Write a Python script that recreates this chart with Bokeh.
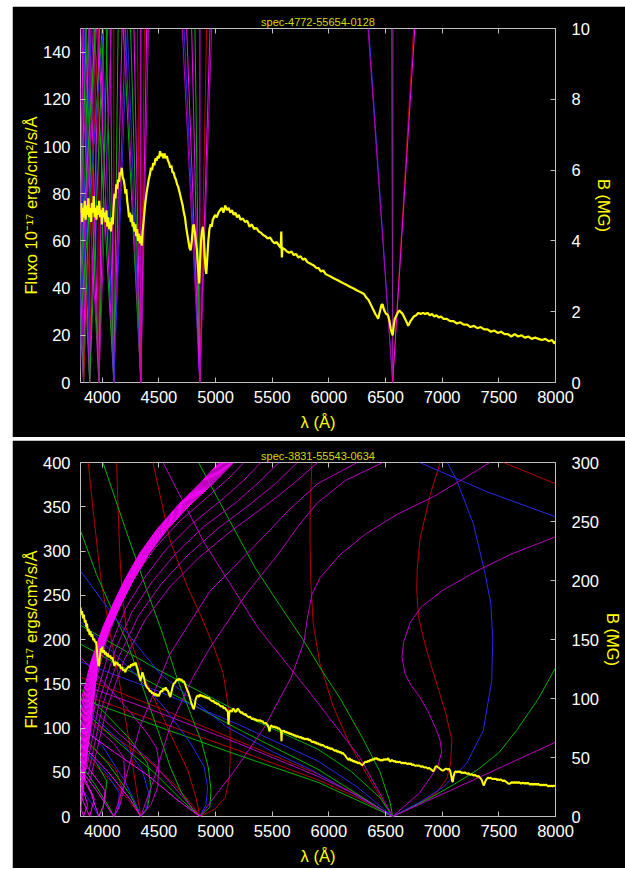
from bokeh.plotting import figure
from bokeh.models import Range1d, LinearAxis, FixedTicker
from bokeh.layouts import column
from bokeh.embed import file_html
from bokeh.resources import INLINE

FONT = "Liberation Sans"
COL = {"red": "#b80000", "green": "#00b000", "blue": "#2828e8",
       "purple": "#b800c0", "magenta": "#ff00ff"}

# ---------------- axis ticks / ranges ----------------
wave_range = [3808, 8000]
wave_ticks = [4000, 4500, 5000, 5500, 6000, 6500, 7000, 7500, 8000]
top_flux_ticks = [0, 20, 40, 60, 80, 100, 120, 140]
top_b_ticks = [0, 2, 4, 6, 8, 10]
bot_flux_ticks = [0, 50, 100, 150, 200, 250, 300, 350, 400]
bot_b_ticks = [0, 50, 100, 150, 200, 250, 300]
top_title = "spec-4772-55654-0128"
bot_title = "spec-3831-55543-0634"

# ---------------- top spectrum (spec-4772-55654-0128) ----------------
top_wave = [3809, 3815, 3822, 3830, 3838, 3846, 3853, 3861, 3869, 3877, 3885, 3893, 3901, 3909, 3917, 3925,
            3933, 3941, 3949, 3957, 3965, 3973, 3981, 3989, 3997, 4005, 4013, 4021, 4029, 4037, 4045, 4053,
            4061, 4069, 4077, 4085, 4093, 4100, 4108, 4116, 4124, 4132, 4140, 4148, 4156, 4164, 4172, 4180,
            4188, 4196, 4204, 4212, 4220, 4228, 4236, 4244, 4252, 4260, 4268, 4276, 4284, 4292, 4300, 4308,
            4316, 4324, 4332, 4340, 4348, 4356, 4364, 4372, 4380, 4390, 4400, 4410, 4420, 4430, 4440, 4450,
            4460, 4470, 4480, 4490, 4500, 4510, 4520, 4530, 4540, 4550, 4560, 4570, 4580, 4590, 4600, 4610,
            4620, 4630, 4640, 4650, 4660, 4670, 4680, 4690, 4700, 4710, 4720, 4730, 4740, 4750, 4760, 4770,
            4780, 4790, 4800, 4808, 4816, 4826, 4836, 4846, 4856, 4864, 4872, 4880, 4888, 4896, 4904, 4912,
            4918, 4926, 4936, 4946, 4956, 4966, 4976, 4986, 4996, 5010, 5025, 5040, 5055, 5070, 5085, 5100,
            5115, 5130, 5145, 5160, 5175, 5190, 5205, 5220, 5240, 5260, 5280, 5300, 5320, 5340, 5360, 5380,
            5400, 5420, 5440, 5460, 5480, 5500, 5520, 5540, 5560, 5575, 5580, 5585, 5590, 5610, 5630, 5650,
            5670, 5690, 5710, 5730, 5750, 5770, 5790, 5810, 5830, 5850, 5870, 5890, 5910, 5930, 5950, 5970,
            5990, 6010, 6030, 6050, 6070, 6090, 6110, 6130, 6150, 6170, 6190, 6210, 6230, 6250, 6270, 6290,
            6310, 6330, 6350, 6370, 6390, 6410, 6425, 6435, 6445, 6455, 6465, 6475, 6485, 6495, 6505, 6515,
            6525, 6535, 6545, 6555, 6563, 6572, 6582, 6592, 6602, 6612, 6622, 6632, 6642, 6652, 6662, 6672,
            6682, 6692, 6700, 6710, 6720, 6735, 6750, 6770, 6790, 6810, 6830, 6850, 6870, 6890, 6910, 6930,
            6950, 6970, 6990, 7010, 7040, 7070, 7100, 7130, 7160, 7190, 7220, 7250, 7280, 7310, 7340, 7370,
            7400, 7430, 7460, 7490, 7520, 7550, 7580, 7610, 7640, 7670, 7700, 7730, 7760, 7790, 7820, 7850,
            7880, 7910, 7940, 7970, 7990, 8000]
top_flux = [72, 76, 68, 74, 70, 77, 69, 75, 71, 78, 70, 74, 68, 76, 72, 79,
            70, 74, 69, 75, 71, 77, 70, 73, 67, 74, 70, 72, 68, 73, 66, 70,
            65, 68, 64, 70, 67, 74, 80, 78, 84, 82, 86, 85, 89, 88, 91, 87,
            86, 84, 80, 82, 77, 74, 70, 72, 68, 71, 66, 68, 64, 67, 62, 65,
            60, 63, 59, 62, 58, 64, 68, 72, 76, 80, 83, 86, 88, 91, 90, 93,
            92, 95, 94, 96, 95, 98, 96, 97, 95, 97, 95, 96, 94, 93, 91, 92,
            89, 89, 87, 86, 84, 83, 81, 79, 77, 75, 72, 70, 66, 63, 60, 57,
            56, 60, 66, 67, 64, 60, 56, 48, 42, 52, 60, 64, 66, 62, 54, 48,
            46, 52, 60, 65, 67, 66, 69, 70, 71, 70, 72, 73, 74, 72, 75, 73,
            74, 72, 73, 71, 72, 70, 71, 69, 69.5, 68, 68.5, 66, 67, 65, 65.5, 64,
            63.5, 62.5, 62, 61, 61.5, 60, 59, 59.5, 58, 57, 64, 53, 57, 56.5, 55.5, 55,
            55.5, 54, 54.5, 53, 53.5, 52, 52.5, 51, 50.5, 50, 49.5, 48.5, 48.5, 47, 47.5, 46,
            45.5, 45, 44.5, 44, 43.5, 43, 42.5, 42, 41.5, 41, 40.5, 40, 39.5, 39, 38.5, 38,
            37.5, 36, 35, 33, 31, 29, 28, 27, 29, 31, 33, 33, 31, 30, 29, 29,
            28, 26, 23, 21, 20, 24, 27, 28, 29, 30, 30.5, 30, 29.5, 29, 28, 27,
            26, 25, 24, 25, 26, 27, 28, 28.5, 29.5, 29, 29.5, 29, 29.5, 28.5, 29, 28,
            28.5, 27.5, 28, 27, 27, 26, 26, 25, 25.5, 24.5, 24.5, 23.5, 24, 23, 23.5, 22.5,
            22.5, 21.5, 22, 21, 21.5, 20.5, 20.5, 19.5, 20.5, 19.5, 20, 19, 19.5, 18.5, 19, 18.5,
            18, 18.5, 17.5, 18, 16.5, 17.5]

# ---------------- top Zeeman lines: (B=0 wavelength, wavelength at B=10 MG, colour) ----------------
top_line_b_end = 10
top_line_start = [6563, 6563, 6563, 6563, 6563, 6563,
                  4861, 4861, 4861, 4861, 4861, 4861, 4861, 4861, 4861,
                  4340, 4340, 4340, 4340, 4340, 4340, 4340, 4340, 4340, 4340,
                  4102, 4102, 4102, 4102, 4102, 4102, 4102, 4102, 4102, 4102,
                  3970, 3970, 3970, 3970, 3970, 3970, 3970, 3970,
                  3889, 3889, 3889, 3889, 3889, 3889, 3889,
                  3835, 3835, 3835, 3835, 3835, 3835, 3835,
                  3798, 3798, 3798, 3798,
                  3771, 3771, 3771, 3771, 3750, 3750, 3750]
top_line_end = [6352, 6346, 6556, 6566, 6748, 6758,
                4706, 4722, 4745, 4789, 4818, 4862, 4921, 4951, 4966,
                4185, 4200, 4222, 4250, 4280, 4310, 4340, 4372, 4392, 4408,
                3930, 3965, 4000, 4035, 4070, 4102, 4140, 4175, 4205, 4222,
                3810, 3850, 3890, 3930, 3970, 4010, 4045, 4080,
                3740, 3790, 3840, 3889, 3935, 3975, 4010,
                3660, 3720, 3780, 3835, 3880, 3930, 3965,
                3830, 3880, 3920, 3850,
                3860, 3905, 3950, 4000, 3880, 3940, 4010]
top_line_color = ["blue", "purple", "green", "purple", "red", "magenta",
                  "purple", "blue", "magenta", "magenta", "green", "magenta", "red", "magenta", "purple",
                  "green", "purple", "blue", "green", "magenta", "red", "magenta", "red", "magenta", "purple",
                  "green", "magenta", "blue", "green", "magenta", "red", "green", "magenta", "purple", "blue",
                  "purple", "green", "magenta", "blue", "red", "magenta", "green", "purple",
                  "green", "magenta", "blue", "purple", "red", "magenta", "green",
                  "magenta", "green", "purple", "blue", "magenta", "green", "red",
                  "magenta", "green", "purple", "blue",
                  "green", "blue", "purple", "green", "purple", "green", "blue"]

# ---------------- bottom spectrum (spec-3831-55543-0634) ----------------
bot_wave = [3809, 3815, 3822, 3830, 3838, 3846, 3853, 3860, 3866, 3872, 3880, 3888, 3896, 3904, 3912, 3920,
            3928, 3936, 3944, 3952, 3958, 3964, 3970, 3976, 3982, 3988, 3994, 4000, 4008, 4016, 4024, 4032,
            4040, 4050, 4060, 4070, 4080, 4090, 4100, 4108, 4116, 4124, 4134, 4144, 4154, 4164, 4174, 4184,
            4194, 4204, 4214, 4224, 4234, 4244, 4254, 4264, 4274, 4284, 4294, 4304, 4314, 4322, 4330, 4338,
            4346, 4354, 4362, 4370, 4380, 4390, 4400, 4410, 4420, 4430, 4440, 4450, 4460, 4470, 4480, 4490,
            4500, 4510, 4520, 4530, 4540, 4550, 4560, 4570, 4580, 4590, 4600, 4610, 4620, 4630, 4640, 4650,
            4660, 4670, 4680, 4690, 4700, 4710, 4720, 4730, 4740, 4750, 4760, 4770, 4780, 4790, 4800, 4808,
            4816, 4824, 4832, 4842, 4852, 4862, 4872, 4882, 4892, 4902, 4912, 4922, 4932, 4942, 4952, 4962,
            4972, 4982, 4992, 5002, 5012, 5022, 5032, 5042, 5052, 5062, 5072, 5082, 5092, 5100, 5108, 5114,
            5118, 5124, 5134, 5144, 5154, 5164, 5174, 5184, 5194, 5204, 5214, 5224, 5234, 5244, 5254, 5264,
            5274, 5284, 5294, 5304, 5314, 5324, 5334, 5344, 5354, 5364, 5374, 5384, 5394, 5404, 5414, 5424,
            5434, 5444, 5454, 5462, 5470, 5476, 5482, 5490, 5500, 5510, 5520, 5530, 5540, 5550, 5560, 5570,
            5578, 5582, 5586, 5594, 5604, 5614, 5624, 5634, 5644, 5654, 5664, 5674, 5684, 5694, 5704, 5714,
            5724, 5734, 5744, 5754, 5764, 5774, 5784, 5794, 5804, 5814, 5824, 5834, 5844, 5854, 5864, 5874,
            5884, 5894, 5904, 5914, 5924, 5934, 5944, 5954, 5964, 5974, 5984, 5994, 6004, 6014, 6024, 6034,
            6044, 6054, 6064, 6074, 6084, 6094, 6104, 6114, 6124, 6134, 6144, 6154, 6164, 6174, 6184, 6194,
            6204, 6214, 6224, 6234, 6244, 6254, 6264, 6274, 6284, 6294, 6304, 6314, 6324, 6334, 6344, 6354,
            6364, 6374, 6384, 6394, 6404, 6414, 6424, 6434, 6444, 6454, 6464, 6474, 6484, 6494, 6504, 6514,
            6524, 6534, 6544, 6554, 6564, 6574, 6584, 6594, 6604, 6614, 6624, 6634, 6644, 6654, 6664, 6674,
            6684, 6694, 6704, 6714, 6724, 6734, 6744, 6754, 6764, 6774, 6784, 6794, 6804, 6814, 6824, 6834,
            6844, 6854, 6864, 6874, 6884, 6894, 6904, 6914, 6922, 6930, 6940, 6950, 6960, 6970, 6980, 6990,
            7000, 7010, 7020, 7030, 7040, 7050, 7060, 7070, 7080, 7088, 7094, 7100, 7110, 7120, 7130, 7140,
            7150, 7160, 7170, 7180, 7190, 7200, 7210, 7220, 7230, 7240, 7250, 7260, 7270, 7280, 7290, 7300,
            7310, 7320, 7330, 7340, 7350, 7360, 7368, 7376, 7386, 7396, 7406, 7416, 7426, 7436, 7446, 7456,
            7466, 7476, 7486, 7496, 7506, 7516, 7526, 7536, 7546, 7556, 7566, 7576, 7586, 7596, 7606, 7616,
            7626, 7636, 7646, 7656, 7666, 7676, 7686, 7696, 7706, 7716, 7726, 7736, 7746, 7756, 7766, 7776,
            7786, 7796, 7806, 7816, 7826, 7836, 7846, 7856, 7866, 7876, 7886, 7896, 7906, 7916, 7926, 7936,
            7946, 7956, 7966, 7976, 7986, 7996]
bot_flux = [236, 228, 232, 224, 228, 219, 222, 214, 218, 209, 212, 205, 209, 203, 206, 199,
            201, 197, 198, 190, 180, 172, 170, 175, 184, 190, 186, 192, 185, 188, 183, 186,
            181, 184, 180, 182, 178, 180, 174, 170, 175, 172, 174, 170, 172, 167, 169, 165,
            166, 163, 167, 168, 170, 168, 172, 170, 173, 171, 174, 170, 166, 160, 157, 153,
            158, 163, 160, 156, 150, 147, 145, 144, 141, 142, 139, 140, 137, 139, 136, 138,
            136, 140, 142, 141, 145, 143, 146, 143, 142, 138, 135, 140, 146, 150, 151, 153,
            155, 154, 156, 154, 155, 152, 153, 150, 146, 143, 140, 136, 131, 127, 123, 121,
            126, 132, 135, 137, 135, 138, 136, 137, 135, 136, 134, 135, 133, 134, 132, 131,
            130, 131, 128, 129, 127, 128, 126, 125, 124, 125, 122, 123, 121, 120, 118, 104,
            112, 119, 120, 118, 122, 121, 118, 119, 122, 121, 119, 117, 118, 116, 115, 116,
            114, 113, 112, 113, 111, 110, 111, 109, 110, 108, 109, 108, 109, 107, 108, 106,
            105, 106, 104, 103, 99, 96, 100, 103, 102, 101, 102, 100, 101, 99, 100, 98,
            97, 85, 97, 96, 97, 95, 96, 94, 95, 93, 94, 92, 93, 91, 92, 90,
            91, 90, 89, 90, 88, 89, 87, 88, 87, 88, 86, 87, 85, 84, 85, 83,
            84, 82, 83, 81, 82, 80, 81, 80, 79, 78, 79, 77, 78, 76, 77, 76,
            75, 74, 75, 73, 74, 72, 73, 71, 72, 70, 69, 67, 65, 64, 66, 63,
            64, 62, 63, 61, 62, 60, 61, 60, 59, 58, 59, 61, 62, 61, 63, 62,
            64, 63, 65, 64, 66, 65, 66, 64, 65, 63, 64, 63, 65, 64, 65, 64,
            66, 63, 62, 64, 63, 62, 63, 61, 62, 61, 62, 61, 60, 61, 60, 61,
            60, 59, 60, 59, 60, 58, 59, 58, 57, 58, 57, 58, 57, 56, 57, 56,
            55, 56, 55, 54, 55, 54, 53, 52, 51, 53, 56, 57, 56, 55, 54, 53,
            52, 52, 53, 54, 54, 53, 54, 52, 46, 40, 39, 45, 50, 51, 50, 51,
            50, 51, 49, 50, 49, 50, 49, 48, 49, 48, 47, 48, 47, 46, 47, 46,
            45, 46, 44, 43, 41, 37, 35, 38, 41, 43, 44, 43, 44, 43, 42, 43,
            42, 43, 41, 42, 41, 42, 41, 40, 41, 40, 39, 38, 37, 37, 38, 39,
            38, 39, 38, 39, 38, 39, 38, 37, 38, 38, 37, 38, 37, 38, 37, 36,
            37, 36, 37, 36, 37, 36, 37, 36, 35, 36, 35, 36, 35, 36, 35, 34,
            35, 34, 35, 34, 35, 34]

# ---------------- bottom transition curves, (wavelength, B in MG) points ----------------
red_curves = [
    [(3876, 300), (3930, 250), (3990, 200), (4060, 160), (4150, 115), (4227, 70), (4290, 30), (4340, 0)],
    [(4127, 300), (4140, 260), (4156, 220), (4175, 190), (4210, 160), (4350, 122), (4521, 87), (4650, 60),
     (4756, 39), (4830, 15), (4861, 0)],
    [(4447, 300), (4598, 234), (4750, 195), (4862, 172), (4980, 145), (5068, 121), (5110, 95), (5127, 78),
     (5130, 50), (5120, 32), (5085, 16), (4990, 6), (4861, 0)],
    [(5850, 300), (5835, 260), (5833, 234), (5840, 200), (5862, 163), (5920, 130), (6039, 93), (6180, 62),
     (6333, 36), (6470, 14), (6563, 0)],
    [(6981, 300), (6892, 272), (6804, 235), (6780, 210), (6775, 193), (6790, 170), (6819, 157), (6880, 135),
     (6960, 110), (7030, 88), (7085, 65), (7075, 45), (7040, 32), (6951, 20), (6716, 7), (6563, 0)],
    [(7540, 300), (7770, 291), (8000, 282)],
    [(3809, 118), (4500, 92), (5200, 64), (5904, 36), (6250, 18), (6563, 0)],
    [(3809, 104), (4500, 80), (5200, 56), (5904, 31), (6250, 16), (6563, 0)],
    [(3809, 86), (4100, 68), (4400, 48), (4650, 26), (4800, 9), (4861, 0)],
    [(3809, 55), (4050, 33), (4250, 12), (4340, 0)],
    [(4102, 0), (4150, 8), (4170, 25), (4120, 40), (3950, 55), (3809, 68)],
]
green_curves = [
    [(4006, 300), (4200, 245), (4400, 190), (4521, 158), (4668, 115), (4800, 82), (4874, 64), (4935, 42),
     (4960, 22), (4950, 8), (4861, 0)],
    [(3809, 242), (3950, 205), (4100, 172), (4215, 149), (4374, 105), (4509, 68), (4600, 42), (4700, 20),
     (4800, 6), (4861, 0)],
    [(4850, 300), (5100, 255), (5348, 211), (5560, 180), (5771, 150), (5950, 122), (6100, 100), (6300, 66),
     (6450, 38), (6540, 12), (6563, 0)],
    [(6563, 0), (6900, 16), (7100, 27), (7304, 39), (7500, 54), (7657, 73), (7850, 100), (8000, 126)],
    [(3809, 162), (4500, 124), (5376, 80), (5904, 57), (6200, 38), (6450, 16), (6563, 0)],
    [(3809, 146), (4500, 110), (5200, 74), (5904, 40), (6300, 16), (6563, 0)],
    [(3809, 100), (4500, 76), (5200, 52), (5904, 29), (6563, 0)],
    [(3809, 92), (4150, 62), (4450, 38), (4700, 14), (4861, 0)],
    [(3809, 70), (4050, 45), (4250, 18), (4340, 0)],
    [(4340, 0), (4400, 8), (4430, 25), (4400, 45), (4250, 65), (4050, 85), (3809, 108)],
    [(3970, 0), (4020, 12), (4040, 30), (3950, 45), (3809, 60)],
    [(3809, 45), (3950, 25), (4060, 8), (4102, 0)],
]
blue_curves = [
    [(6563, 0), (6800, 12), (7010, 25), (7216, 45), (7363, 73), (7437, 115), (7446, 150), (7430, 180),
     (7378, 206), (7275, 248), (7128, 285), (7045, 300)],
    [(6800, 300), (7400, 275), (8000, 254)],
    [(3809, 208), (4100, 170), (4509, 121), (5098, 76), (5500, 55), (5833, 40), (6200, 20), (6563, 0)],
    [(3809, 131), (4500, 106), (5200, 78), (5904, 47), (6250, 25), (6563, 0)],
    [(4861, 0), (4915, 10), (4930, 24), (4900, 42), (4780, 62), (4550, 92), (4250, 125), (3809, 165)],
    [(3809, 80), (4000, 60), (4200, 30), (4300, 10), (4340, 0)],
    [(4340, 0), (4390, 6), (4410, 20), (4350, 40), (4200, 60), (3809, 95)],
    [(4102, 0), (4140, 6), (4150, 20), (4050, 35), (3809, 60)],
    [(3809, 25), (3900, 12), (3970, 0)],
]
purple_curves = [
    [(4861, 0), (5000, 18), (5168, 39), (5433, 76), (5668, 118), (5780, 148), (5810, 168), (5850, 188),
     (5920, 202), (6100, 222), (6333, 240), (6600, 256), (6922, 271), (7200, 287), (7420, 300)],
    [(4340, 0), (4450, 30), (4598, 76), (4800, 118), (4951, 143), (5274, 189), (5550, 222), (5745, 248),
     (5900, 266), (6150, 285), (6476, 300)],
    [(4102, 0), (4200, 30), (4333, 76), (4598, 138), (4951, 191), (5392, 234), (5650, 260), (5900, 282),
     (6250, 300)],
    [(4536, 300), (4900, 232), (5374, 160), (5832, 105), (6274, 50), (6563, 0)],
    [(6563, 0), (6800, 20), (6960, 42), (6996, 55), (6980, 65), (6951, 73), (6880, 88), (6804, 101),
     (6720, 112), (6672, 121), (6645, 135), (6660, 148), (6720, 165), (6820, 178), (7010, 192), (7304, 208),
     (7600, 222), (8000, 237)],
    [(6563, 0), (7300, 32), (8000, 63)],
    [(3809, 100), (4150, 70), (4450, 45), (4680, 20), (4861, 0)],
    [(4340, 0), (4430, 10), (4490, 25), (4500, 45), (4480, 58), (4400, 70), (4250, 88), (4050, 110), (3809, 135)],
    [(4102, 0), (4160, 10), (4200, 30), (4190, 50), (4100, 62), (3950, 75), (3809, 88)],
    [(3809, 112), (4500, 88), (5200, 62), (5904, 34), (6250, 18), (6563, 0)],
    [(3830, 50), (3930, 110), (4040, 150), (4160, 180), (4300, 205), (4470, 228), (4680, 250), (4920, 270),
     (5120, 287), (5250, 300)],
    [(3845, 45), (3955, 105), (4075, 145), (4210, 177), (4370, 202), (4560, 226), (4790, 248), (5050, 268),
     (5250, 285), (5400, 300)],
    [(3860, 40), (3980, 100), (4110, 140), (4260, 173), (4440, 199), (4650, 223), (4900, 246), (5180, 266),
     (5390, 284), (5560, 300)],
    [(3875, 35), (4005, 95), (4150, 136), (4320, 170), (4520, 197), (4750, 221), (5020, 244), (5310, 265),
     (5540, 283), (5720, 300)],
    [(3890, 30), (4035, 90), (4190, 132), (4380, 167), (4600, 195), (4860, 220), (5150, 243), (5450, 264),
     (5700, 283), (5900, 300)],
]
magenta_curves = [
    [(3808, 96), (3900, 131), (4000, 159), (4100, 181), (4200, 201), (4330, 223), (4480, 243), (4670, 264), (4870, 283), (5030, 300)],
    [(3808, 89), (3905, 131), (4005, 159), (4106, 181), (4206, 201), (4337, 223), (4487, 243), (4678, 264), (4879, 283), (5040, 300)],
    [(3808, 82), (3910, 131), (4010, 159), (4111, 181), (4212, 201), (4343, 223), (4494, 243), (4686, 264), (4888, 283), (5050, 300)],
    [(3808, 75), (3915, 131), (4015, 159), (4117, 181), (4218, 201), (4350, 223), (4501, 243), (4694, 264), (4897, 283), (5060, 300)],
    [(3808, 68), (3920, 131), (4020, 159), (4122, 181), (4224, 201), (4356, 223), (4508, 243), (4702, 264), (4906, 283), (5070, 300)],
    [(3808, 61), (3925, 131), (4025, 159), (4128, 181), (4230, 201), (4363, 223), (4515, 243), (4710, 264), (4915, 283), (5080, 300)],
    [(3808, 54), (3930, 131), (4030, 159), (4133, 181), (4236, 201), (4369, 223), (4522, 243), (4718, 264), (4924, 283), (5090, 300)],
    [(3808, 47), (3935, 131), (4035, 159), (4139, 181), (4242, 201), (4376, 223), (4529, 243), (4726, 264), (4933, 283), (5100, 300)],
    [(3808, 40), (3940, 131), (4040, 159), (4144, 181), (4248, 201), (4382, 223), (4536, 243), (4734, 264), (4942, 283), (5110, 300)],
    [(3808, 33), (3945, 131), (4045, 159), (4150, 181), (4254, 201), (4389, 223), (4543, 243), (4742, 264), (4951, 283), (5120, 300)],
    [(3808, 26), (3950, 131), (4050, 159), (4155, 181), (4260, 201), (4395, 223), (4550, 243), (4750, 264), (4960, 283), (5130, 300)],
    [(3808, 19), (3955, 131), (4055, 159), (4161, 181), (4266, 201), (4402, 223), (4557, 243), (4758, 264), (4969, 283), (5140, 300)],
    [(3808, 12), (3960, 131), (4060, 159), (4166, 181), (4272, 201), (4408, 223), (4564, 243), (4766, 264), (4978, 283), (5150, 300)],
    [(3808, 5), (3965, 131), (4065, 159), (4172, 181), (4278, 201), (4415, 223), (4571, 243), (4774, 264), (4987, 283), (5160, 300)],
    [(3889, 0), (3930, 15), (3809, 40)],
    [(3809, 18), (3889, 0)],
    [(3835, 0), (3870, 10), (3809, 30)],
    [(3809, 8), (3835, 0)],
    [(3970, 0), (4010, 8), (4025, 22), (3809, 50)],
    [(3809, 36), (3900, 20), (3970, 0)],
    [(3809, 62), (4050, 38), (4250, 14), (4340, 0)],
    [(3809, 40), (3950, 22), (4102, 0)],
    [(3809, 75), (4100, 55), (4400, 35), (4650, 15), (4861, 0)],
]


def make_panel(title, flux_max, b_max, flux_ticks, b_ticks, height, margin_top, border_bottom):
    p = figure(width=613, height=height, x_range=Range1d(*wave_range), y_range=Range1d(0, flux_max),
               output_backend="svg", toolbar_location=None,
               background_fill_color="black", border_fill_color="black",
               min_border_left=68, min_border_right=70, min_border_top=22, min_border_bottom=border_bottom)
    p.margin = (margin_top, 0, 0, 12)
    p.extra_y_ranges = {"B": Range1d(0, b_max)}
    p.grid.visible = False
    p.outline_line_color = "#c0c0c0"
    p.outline_line_width = 1

    p.title.text = title
    p.title.align = "center"
    p.title.text_font = FONT
    p.title.text_font_size = "11px"
    p.title.text_font_style = "normal"
    p.title.text_color = "#d8d800"
    p.title.standoff = 1

    def style(ax):
        ax.axis_line_color = None
        ax.major_tick_in = 5
        ax.major_tick_out = 0
        ax.minor_tick_in = 0
        ax.minor_tick_out = 0
        ax.major_tick_line_color = "#c0c0c0"
        ax.major_label_text_color = "white"
        ax.major_label_text_font = FONT
        ax.major_label_text_font_size = "16.5px"
        ax.axis_label_text_color = "#ffff00"
        ax.axis_label_text_font = FONT
        ax.axis_label_text_font_size = "16.5px"
        ax.axis_label_text_font_style = "normal"

    xa = p.xaxis[0]
    style(xa)
    xa.ticker = FixedTicker(ticks=wave_ticks)
    xa.axis_label = "λ (Å)"
    xa.major_label_standoff = 8
    xa.axis_label_standoff = 7

    ya = p.yaxis[0]
    style(ya)
    ya.ticker = FixedTicker(ticks=flux_ticks)
    ya.axis_label = "Fluxo 10⁻¹⁷ ergs/cm²/s/Å"
    ya.major_label_standoff = 10
    ya.axis_label_standoff = 0

    ra = LinearAxis(y_range_name="B", ticker=FixedTicker(ticks=b_ticks), axis_label="B (MG)")
    style(ra)
    ra.major_label_standoff = 16
    ra.axis_label_standoff = 2
    p.add_layout(ra, "right")

    # mirrored tick marks on the top edge, no labels
    ta = LinearAxis(ticker=FixedTicker(ticks=wave_ticks))
    style(ta)
    ta.major_label_text_color = None
    ta.major_label_text_font_size = "1px"
    ta.major_label_standoff = 0
    p.add_layout(ta, "above")
    return p


# ---------------- top panel ----------------
p1 = make_panel(top_title, 150, 10, top_flux_ticks, top_b_ticks, 431, 6, 55)
p1.segment(x0=top_line_start, y0=[0] * len(top_line_start), x1=top_line_end,
           y1=[top_line_b_end] * len(top_line_end),
           line_color=[COL[c] for c in top_line_color], line_width=1, y_range_name="B")
p1.line(top_wave, top_flux, line_color="#ffff00", line_width=2.2)

# ---------------- bottom panel ----------------
p2 = make_panel(bot_title, 400, 300, bot_flux_ticks, bot_b_ticks, 428, 3, 52)
for name, curves in [("red", red_curves), ("green", green_curves), ("blue", blue_curves),
                     ("purple", purple_curves), ("magenta", magenta_curves)]:
    p2.multi_line(xs=[[pt[0] for pt in c] for c in curves], ys=[[pt[1] for pt in c] for c in curves],
                  line_color=COL[name], line_width=1, y_range_name="B")
p2.line(bot_wave, bot_flux, line_color="#ffff00", line_width=2)

layout = column(p1, p2, spacing=0)
open("out.html", "w").write(file_html(layout, INLINE))
